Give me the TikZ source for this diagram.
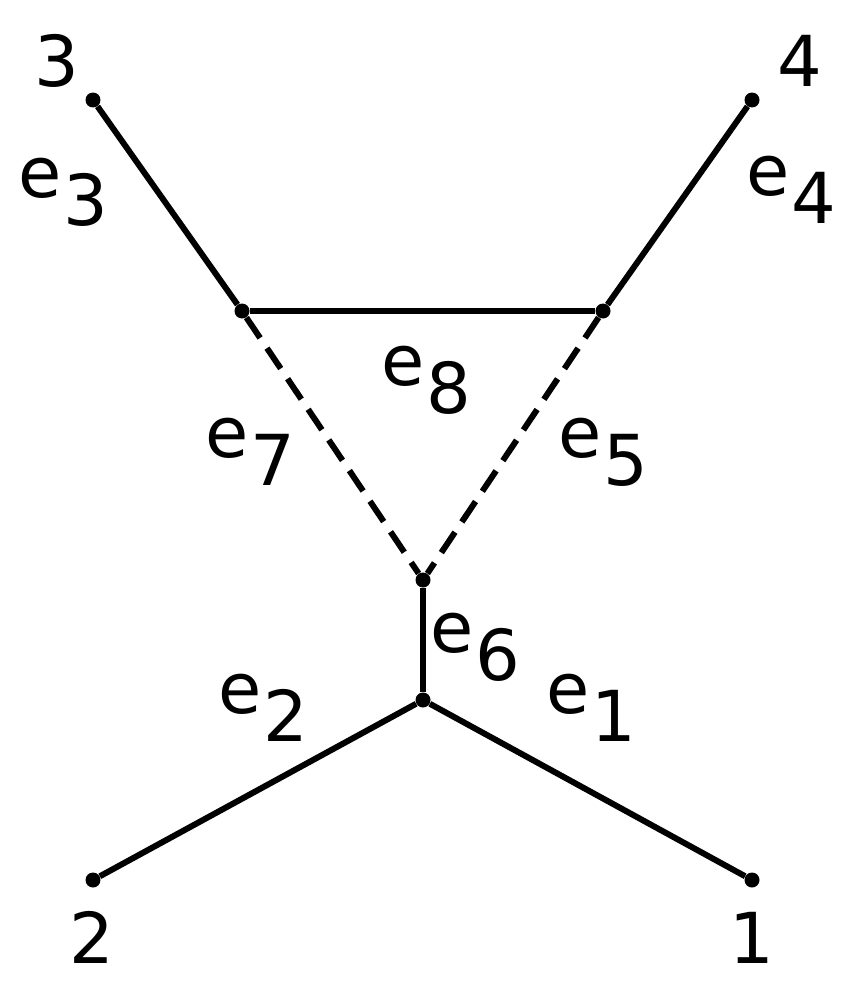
\documentclass[tikz,border=0pt]{standalone}
\usepackage{fontspec}
\setmainfont{DejaVu Sans}
\usetikzlibrary{positioning}
\tikzset{
    vertex/.style = {circle, fill, inner sep=0pt, minimum size=0.3cm},
    edge/.style = {draw, line width=3.4pt},
    cutedge/.style = {edge, dash pattern=on 14pt off 7pt},
    elabel/.style = {anchor=base west, inner sep=0pt, font=\fontsize{40}{46}\selectfont},
    vlabel/.style = {anchor=base, inner sep=0pt, font=\fontsize{40}{46}\selectfont}
}
\newcommand{\edgelab}[1]{e\kern1pt\raisebox{-16pt}{#1}}
\begin{document}
\begin{tikzpicture}[x=0.02cm, y=-0.02cm]
    \useasboundingbox (0,0) rectangle (846,997);
    % vertices
    \node [vertex] (v3) at (93,100) {};
    \node [vertex] (v4) at (752,100) {};
    \node [vertex] (tl) at (242,311) {};
    \node [vertex] (tr) at (603,311) {};
    \node [vertex] (tb) at (423,580) {};
    \node [vertex] (mid) at (423,700) {};
    \node [vertex] (v2) at (93,880) {};
    \node [vertex] (v1) at (752,880) {};
    % leaf labels
    \node [vlabel] (n3) at (57,87) {3};
    \node [vlabel] (n4) at (800,87) {4};
    \node [vlabel] (n2) at (92,963) {2};
    \node [vlabel] (n1) at (752,963) {1};
    % edges
    \draw [edge] (v3) -- (tl);
    \draw [edge] (v4) -- (tr);
    \draw [edge] (tl) -- (tr);
    \draw [cutedge] (tl) -- (tb);
    \draw [cutedge] (tr) -- (tb);
    \draw [edge] (tb) -- (mid);
    \draw [edge] (mid) -- (v2);
    \draw [edge] (mid) -- (v1);
    % edge labels
    \node [elabel] (e3) at (18,197) {\edgelab{3}};
    \node [elabel] (e4) at (746,195) {\edgelab{4}};
    \node [elabel] (e8) at (381,385) {\edgelab{8}};
    \node [elabel] (e7) at (205,457) {\edgelab{7}};
    \node [elabel] (e5) at (558,457) {\edgelab{5}};
    \node [elabel] (e6) at (430,652) {\edgelab{6}};
    \node [elabel] (e2) at (218,713) {\edgelab{2}};
    \node [elabel] (e1) at (546,713) {\edgelab{1}};
\end{tikzpicture}
\end{document}
